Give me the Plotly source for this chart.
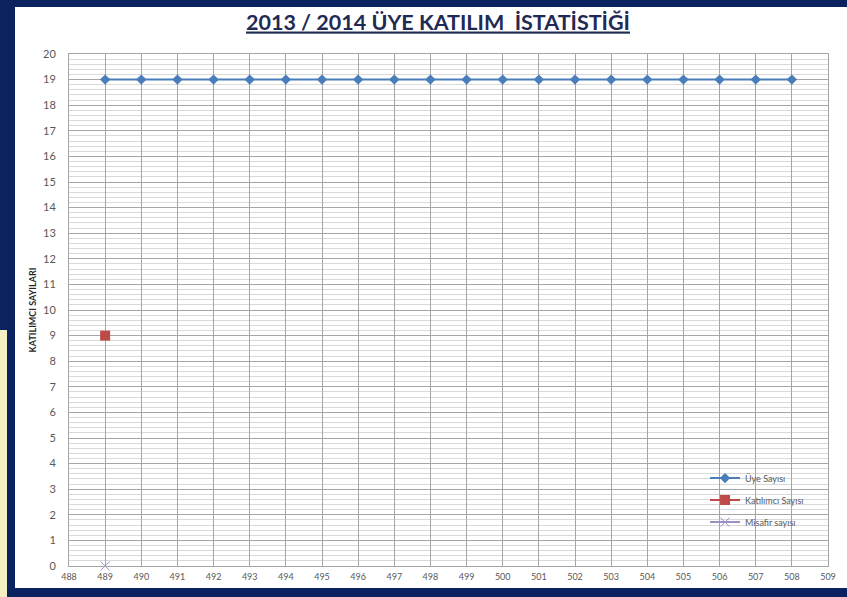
import plotly.graph_objects as go

x_uye = list(range(489, 509))
uye = [19] * 20
x_kat = [489]
katilimci = [9]
x_mis = [489]
misafir = [0]

title = "2013 / 2014 ÜYE KATILIM  İSTATİSTİĞİ"
y_title = "KATILIMCI SAYILARI"

W, H = 847, 597
L, R, T, B = 69, 19, 54, 31
PW, PH = W - L - R, H - T - B

fig = go.Figure()
fig.add_trace(go.Scatter(x=x_uye, y=uye, mode="lines+markers", name="Üye Sayısı",
                         legendgroup="a",
                         line=dict(color="#4a7ebb", width=2),
                         marker=dict(symbol="diamond", size=8, color="#4a7ebb")))
fig.add_trace(go.Scatter(x=x_kat, y=katilimci, mode="lines+markers", name="Katılımcı Sayısı",
                         legendgroup="b",
                         line=dict(color="#be4b48", width=2),
                         marker=dict(symbol="square", size=10, color="#be4b48")))
fig.add_trace(go.Scatter(x=x_mis, y=misafir, mode="lines+markers", name="Misafir sayısı",
                         legendgroup="c", cliponaxis=False,
                         line=dict(color="#9d8fc4", width=2),
                         marker=dict(symbol="x-thin", size=9, color="#9d8fc4",
                                     line=dict(color="#9d8fc4", width=1))))

navy = "#0b2260"
fig.update_layout(
    width=W, height=H,
    margin=dict(l=L, r=R, t=T, b=B),
    paper_bgcolor="white",
    plot_bgcolor="white",
    font=dict(family="Lato, Open Sans, sans-serif", color="#595959"),
    title=dict(text="<b><u>" + title + "</u></b>", x=438 / W, xanchor="center",
               y=1 - 22 / H, yanchor="middle",
               font=dict(size=21.5, color="#1f2a55", family="Lato, Open Sans, sans-serif")),
    xaxis=dict(range=[488, 509], dtick=1, tick0=488, showgrid=True, gridcolor="#a6a6a6",
               gridwidth=1, showline=True, linecolor="#a6a6a6", mirror=True, zeroline=False,
               ticks="", tickfont=dict(size=9, color="#595959"), ticklabelstandoff=2),
    yaxis=dict(range=[0, 20], dtick=1, showgrid=True, gridcolor="#a6a6a6", gridwidth=1,
               minor=dict(dtick=0.2, showgrid=True, gridcolor="#d9d9d9", gridwidth=1),
               showline=True, linecolor="#a6a6a6", mirror=True, zeroline=False,
               ticks="", tickfont=dict(size=11, color="#595959"), ticklabelstandoff=10,
               title=dict(text="<b>" + y_title + "</b>", standoff=4,
                          font=dict(size=9, color="#262626"))),
    legend=dict(x=0.838, y=0.2, xanchor="left", yanchor="top", bgcolor="rgba(255,255,255,0)",
                font=dict(size=9, color="#595959"), itemwidth=30, tracegroupgap=3),
    showlegend=True,
)

def prect(x0, x1, y0, y1, color):
    # pixel coords (from top-left of figure) converted to paper coords
    fig.add_shape(type="rect", xref="paper", yref="paper",
                  x0=(x0 - L) / PW, x1=(x1 - L) / PW,
                  y0=(H - B - y1) / PH, y1=(H - B - y0) / PH,
                  fillcolor=color, line_width=0, layer="below")

prect(0, W, 0, 7, navy)          # top border
prect(0, W, 588, H, navy)        # bottom border
prect(0, 15, 0, H, navy)         # left border
prect(0, 7, 330, H, "#f6efc4")   # light corner tint

fig.write_html("out.html", config={"displayModeBar": False},
               post_script="document.body.style.margin='0';document.body.style.overflow='hidden';")
